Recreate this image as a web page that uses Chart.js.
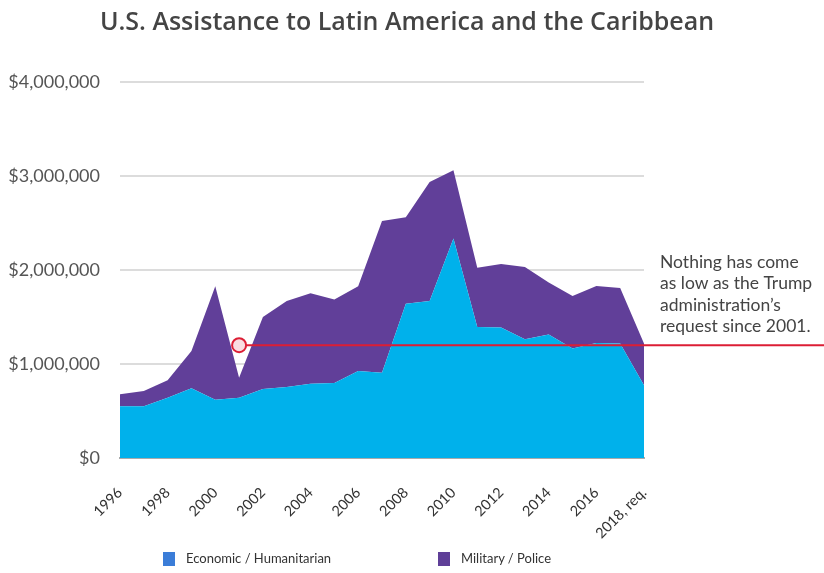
<!DOCTYPE html>
<html>
<head>
<meta charset="utf-8">
<script src="https://cdn.jsdelivr.net/npm/chart.js@4"></script>
<style>
  body { margin: 0; background: #fff; font-family: 'Lato', sans-serif; }
  .wrap { position: relative; width: 824px; height: 573px; }
  .title { position: absolute; top: 3px; left: 0; width: 814px; text-align: center; font-family: 'Open Sans', sans-serif; font-weight: 600; font-size: 25px; color: #444; }
  .legend { position: absolute; top: 550px; font-size: 13px; color: #333; }
  .legend span.box { display: inline-block; width: 12px; height: 14px; vertical-align: -3px; margin-right: 11px; }
</style>
</head>
<body>
<div class="wrap">
  <canvas id="aidChart" width="824" height="573"></canvas>
  <div class="title">U.S. Assistance to Latin America and the Caribbean</div>
  <div class="legend" style="left:163px"><span class="box" style="background:#3b7dd8"></span>Economic / Humanitarian</div>
  <div class="legend" style="left:438px"><span class="box" style="background:#5f3f98"></span>Military / Police</div>
</div>
<script>
const years = ['1996', '1997', '1998', '1999', '2000', '2001', '2002', '2003', '2004', '2005', '2006',
  '2007', '2008', '2009', '2010', '2011', '2012', '2013', '2014', '2015', '2016', '2017', '2018, req.'];

const economic = [550000, 550000, 642000, 741000, 621000, 642000, 734000, 755000, 790000, 798000, 926000,
  908000, 1642000, 1670000, 2334000, 1394000, 1387000, 1263000, 1313000, 1164000, 1223000, 1217000, 773000];

const military = [128000, 163000, 184000, 397000, 1205000, 213000, 766000, 915000, 962000, 887000, 900000,
  1612000, 918000, 1266000, 726000, 631000, 677000, 769000, 553000, 559000, 607000, 592000, 444000];

const yTicks = [0, 1000000, 2000000, 3000000, 4000000];
const requestLevel = 1200000;
const noteLines = ['Nothing has come', 'as low as the Trump', 'administration\u2019s', 'request since 2001.'];

// red reference line + circle + note
const notePlugin = {
    id: 'note',
    afterDatasetsDraw(chart) {
        const ctx = chart.ctx;
        const xs = chart.scales.x, ys = chart.scales.y;
        const cx = xs.getPixelForValue(5);
        const cy = ys.getPixelForValue(requestLevel);
        ctx.save();
        ctx.strokeStyle = '#dc1e35';
        ctx.lineWidth = 2;
        ctx.beginPath();
        ctx.moveTo(cx + 7, cy);
        ctx.lineTo(chart.width, cy);
        ctx.stroke();
        ctx.beginPath();
        ctx.arc(cx, cy, 7, 0, Math.PI * 2);
        ctx.fillStyle = '#fadde1';
        ctx.fill();
        ctx.stroke();
        ctx.fillStyle = '#444';
        ctx.font = "17.5px Lato";
        ctx.textBaseline = 'alphabetic';
        noteLines.forEach((line, i) => {
            ctx.fillText(line, 660, 268 + i * 21.3);
        });
        ctx.restore();
    }
};

new Chart(document.getElementById('aidChart'), {
    type: 'line',
    data: {
        labels: years,
        datasets: [
            {
                label: 'Economic / Humanitarian',
                data: economic,
                backgroundColor: '#00b1eb',
                borderWidth: 0,
                pointRadius: 0,
                fill: 'origin'
            },
            {
                label: 'Military / Police',
                data: military,
                backgroundColor: '#613f99',
                borderWidth: 0,
                pointRadius: 0,
                fill: '-1'
            }
        ]
    },
    options: {
        responsive: false,
        animation: false,
        layout: { padding: { top: 82, right: 180, bottom: 0, left: 0 } },
        plugins: {
            legend: { display: false },
            tooltip: { enabled: false }
        },
        scales: {
            x: {
                grid: { display: false },
                border: { color: '#aaa', width: 2 },
                afterFit: scale => { scale.height = 115; },
                ticks: {
                    autoSkip: false,
                    maxRotation: 45,
                    minRotation: 45,
                    padding: 18,
                    color: '#333',
                    font: { family: 'Lato', size: 14.5 },
                    callback: (v, i) => (i % 2 === 0 ? years[i] : '')
                }
            },
            y: {
                stacked: true,
                min: 0,
                max: 4000000,
                afterFit: scale => { scale.width = 120; },
                afterBuildTicks: scale => { scale.ticks = yTicks.map(v => ({ value: v })); },
                border: { display: false },
                grid: { color: '#dcdcdc', lineWidth: 2, drawTicks: false },
                ticks: {
                    padding: 20,
                    color: '#555',
                    font: { family: 'Lato', size: 18 },
                    callback: v => '$' + v.toLocaleString('en-US')
                }
            }
        }
    },
    plugins: [notePlugin]
});
</script>
</body>
</html>
